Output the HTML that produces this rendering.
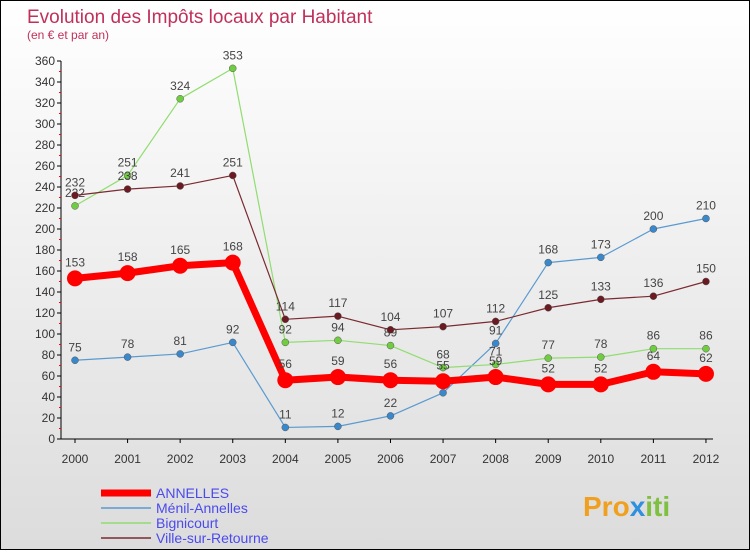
<!DOCTYPE html>
<html><head><meta charset="utf-8"><style>
body{margin:0;width:750px;height:550px;overflow:hidden;font-family:"Liberation Sans",sans-serif}
#wrap{position:relative;width:748px;height:548px;border:1px solid #000;background:linear-gradient(#fff,#dcdcdc)}
</style></head><body>
<div id="wrap">
<svg id="c" width="748" height="548" xmlns="http://www.w3.org/2000/svg">
<text x="26" y="22" font-size="19" fill="#c0305a">Evolution des Impôts locaux par Habitant</text>
<text x="26" y="38" font-size="12" fill="#c0305a">(en € et par an)</text>
<g id="axes"></g><g id="series"></g><g id="legend"></g>
<text x="582" y="515" font-size="28" font-weight="bold" fill="#f0a020">Pro<tspan fill="#3090e0">x</tspan><tspan fill="#80c040">iti</tspan></text>
</svg></div>
<script>
const years=["2000","2001","2002","2003","2004","2005","2006","2007","2008","2009","2010","2011","2012"];
const yTicks=[0,20,40,60,80,100,120,140,160,180,200,220,240,260,280,300,320,340,360];
const annelles=[153,158,165,168,56,59,56,55,59,52,52,64,62];
const menil=[75,78,81,92,11,12,22,44,91,168,173,200,210];
const bignicourt=[222,251,324,353,92,94,89,68,71,77,78,86,86];
const ville=[232,238,241,251,114,117,104,107,112,125,133,136,150];
const seriesNames=["ANNELLES","Ménil-Annelles","Bignicourt","Ville-sur-Retourne"];
const NS="http://www.w3.org/2000/svg";
const xs=i=>74+i*52.58, ys=v=>438-v*1.05;
function mk(tag,a,p){const e=document.createElementNS(NS,tag);for(const k in a)e.setAttribute(k,a[k]);p.appendChild(e);return e;}
const ax=document.getElementById('axes');
let l=mk('line',{x1:60,y1:ys(0),x2:60,y2:ys(360),stroke:'#000'},ax);


l=mk('line',{x1:60,y1:ys(0),x2:712,y2:ys(0),stroke:'#000'},ax);


yTicks.forEach(t=>{
 mk('line',{x1:56,y1:ys(t),x2:60,y2:ys(t),stroke:'#000'},ax);
 if(t<360) mk('line',{x1:58,y1:ys(t+10),x2:60,y2:ys(t+10),stroke:'#f00'},ax);
 const tx=mk('text',{x:54,y:ys(t)+4,'font-size':12,'text-anchor':'end',fill:'#333'},ax);
 tx.textContent=t;
 
 
});
years.forEach((y,i)=>{
 mk('line',{x1:xs(i),y1:ys(0),x2:xs(i),y2:ys(0)+4,stroke:'#000'},ax);
 const tx=mk('text',{x:xs(i),y:ys(0)+24,'font-size':12,'text-anchor':'middle',fill:'#333'},ax);
 tx.textContent=y;
 
 
});
const sg=document.getElementById('series');
const defs=[[menil,'#5a9ad0','#3a88cc',1.2,3.5,'menil-annelles'],[bignicourt,'#90dd70','#70cc40',1.2,3.5,'bignicourt'],[ville,'#7a2a30','#6a1a20',1.2,3.5,'ville-sur-retourne'],[annelles,'#ff0000','#ff0000',7,8,'annelles']];
defs.forEach(([d,lc,pc,w,r,n])=>{
 const g=mk('g',{},sg);
 
 
 const p=mk('polyline',{points:d.map((v,i)=>xs(i)+','+ys(v)).join(' '),fill:'none',stroke:lc,'stroke-width':w,'stroke-linejoin':'round'},g);
 
 
 d.forEach((v,i)=>{
  const c=mk('circle',{cx:xs(i),cy:ys(v),r:r,fill:pc,stroke:w>2?'none':'#555','stroke-width':0.5},g);
  
  
  const t=mk('text',{x:xs(i),y:ys(v)-(w>2?12:9),'font-size':12,'text-anchor':'middle',fill:'#444'},g);
  t.textContent=v;
  
  
 });
});
const lg=document.getElementById('legend');
const lcol=['#ff0000','#5a9ad0','#90dd70','#7a2a30'],lw=[7,1.5,1.5,1.5];
seriesNames.forEach((n,i)=>{
 const y=492+i*15;
 const ln=mk('line',{x1:100,y1:y,x2:150,y2:y,stroke:lcol[i],'stroke-width':lw[i]},lg);
 
 
 const t=mk('text',{x:155,y:y+5,'font-size':14,fill:'#4a4aee'},lg);
 t.textContent=n;
 
 
});
</script>
</body></html>
